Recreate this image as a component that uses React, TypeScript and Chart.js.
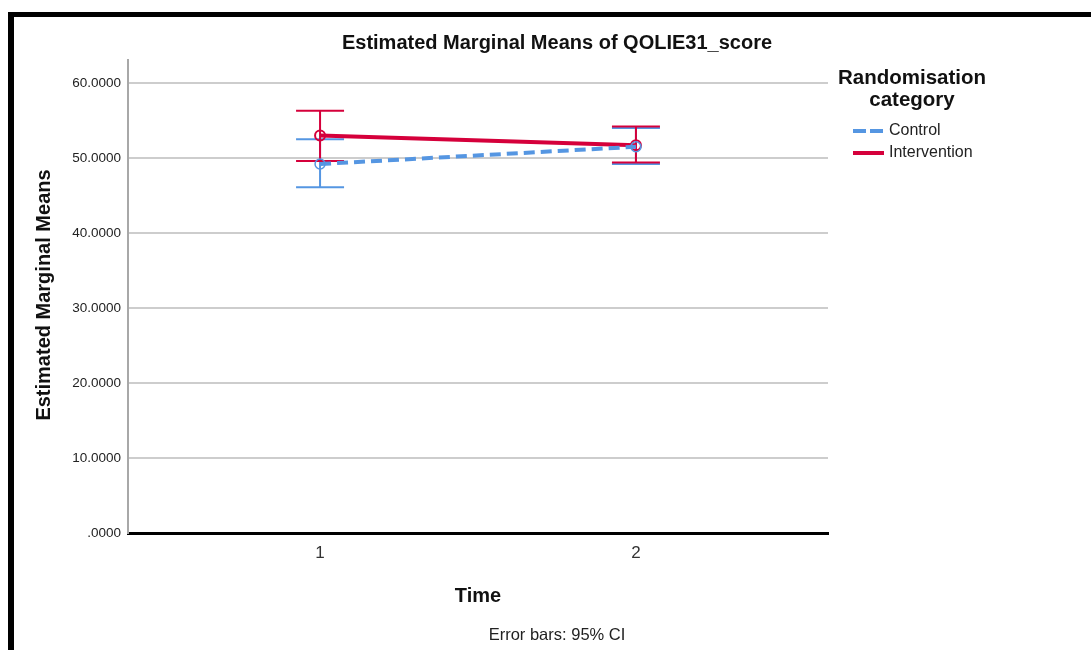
import React, { useEffect, useRef } from 'react';
import { Chart, registerables } from 'chart.js';
Chart.register(...registerables);

const TIMES = [1, 2];
const TIME_LABELS = ['1', '2'];
const SERIES_NAMES = ['Control', 'Intervention'];
const CONTROL_MEANS = [49.2, 51.5];
const CONTROL_LOWER = [46.1, 49.2];
const CONTROL_UPPER = [52.5, 54.0];
const INTERVENTION_MEANS = [53.0, 51.7];
const INTERVENTION_LOWER = [49.6, 49.4];
const INTERVENTION_UPPER = [56.3, 54.2];
const Y_TICKS = [0, 10, 20, 30, 40, 50, 60];
const Y_TICK_LABELS = ['.0000', '10.0000', '20.0000', '30.0000', '40.0000', '50.0000', '60.0000'];

const TITLE = 'Estimated Marginal Means of QOLIE31_score';
const Y_TITLE = 'Estimated Marginal Means';
const X_TITLE = 'Time';
const NOTE = 'Error bars: 95% CI';
const LEGEND_TITLE = ['Randomisation', 'category'];

const BLUE = '#5596e2';
const RED = '#d5003b';
const FONT = '"Liberation Sans", Arial, sans-serif';

const errorBarPlugin = {
  id: 'errorBars',
  beforeDatasetsDraw(chart: any) {
    const { ctx, scales } = chart;
    const xs = scales.x;
    const ys = scales.y;
    const sets = [
      { lo: CONTROL_LOWER, hi: CONTROL_UPPER, color: BLUE },
      { lo: INTERVENTION_LOWER, hi: INTERVENTION_UPPER, color: RED },
    ];
    ctx.save();
    sets.forEach((s) => {
      ctx.strokeStyle = s.color;
      ctx.lineWidth = 2;
      TIMES.forEach((t, i) => {
        const x = xs.getPixelForValue(t);
        const y1 = ys.getPixelForValue(s.lo[i]);
        const y2 = ys.getPixelForValue(s.hi[i]);
        ctx.beginPath();
        ctx.moveTo(x, y1);
        ctx.lineTo(x, y2);
        ctx.moveTo(x - 24, y1);
        ctx.lineTo(x + 24, y1);
        ctx.moveTo(x - 24, y2);
        ctx.lineTo(x + 24, y2);
        ctx.stroke();
      });
    });
    ctx.restore();
  },
};

const textPlugin = {
  id: 'texts',
  afterDraw(chart: any) {
    const { ctx } = chart;
    ctx.save();
    ctx.fillStyle = '#111';
    ctx.textBaseline = 'middle';
    ctx.textAlign = 'center';
    ctx.font = `bold 20px ${FONT}`;
    ctx.fillText(TITLE, 557, 43);
    ctx.font = `bold 20.5px ${FONT}`;
    ctx.fillText(LEGEND_TITLE[0], 912, 78);
    ctx.fillText(LEGEND_TITLE[1], 912, 100);
    ctx.font = `bold 20px ${FONT}`;
    ctx.fillText(X_TITLE, 478, 596);
    ctx.font = `16.5px ${FONT}`;
    ctx.fillStyle = '#222';
    ctx.fillText(NOTE, 557, 635);
    // legend items
    const colors = [BLUE, RED];
    const dashes = [[13, 4], []];
    const ys = [131, 153];
    SERIES_NAMES.forEach((name, i) => {
      ctx.strokeStyle = colors[i];
      ctx.lineWidth = 4;
      ctx.setLineDash(dashes[i]);
      ctx.beginPath();
      ctx.moveTo(853, ys[i]);
      ctx.lineTo(884, ys[i]);
      ctx.stroke();
      ctx.setLineDash([]);
      ctx.textAlign = 'left';
      ctx.fillStyle = '#222';
      ctx.font = `16px ${FONT}`;
      ctx.fillText(name, 889, ys[i]);
    });
    // y title
    ctx.translate(44, 295);
    ctx.rotate(-Math.PI / 2);
    ctx.textAlign = 'center';
    ctx.fillStyle = '#111';
    ctx.font = `bold 20px ${FONT}`;
    ctx.fillText(Y_TITLE, 0, 0);
    ctx.restore();
  },
};

export default function App() {
  const ref = useRef<HTMLCanvasElement>(null);
  useEffect(() => {
    const canvas = ref.current;
    if (!canvas) return;
    const chart = new Chart(canvas, {
      type: 'line',
      data: {
        datasets: [
          {
            label: SERIES_NAMES[0],
            data: TIMES.map((t, i) => ({ x: t, y: CONTROL_MEANS[i] })),
            borderColor: BLUE,
            borderWidth: 4,
            borderDash: [11, 6],
            pointRadius: 5,
            pointBorderWidth: 1.5,
            pointBorderColor: BLUE,
            pointBackgroundColor: 'rgba(255,255,255,0)',
            fill: false,
            tension: 0,
          },
          {
            label: SERIES_NAMES[1],
            data: TIMES.map((t, i) => ({ x: t, y: INTERVENTION_MEANS[i] })),
            borderColor: RED,
            borderWidth: 4,
            pointRadius: 5,
            pointBorderWidth: 2,
            pointBorderColor: RED,
            pointBackgroundColor: 'rgba(255,255,255,0)',
            fill: false,
            tension: 0,
          },
        ],
      },
      options: {
        responsive: false,
        animation: false,
        layout: { padding: { left: 0, top: 60, right: 263, bottom: 77 } },
        plugins: { legend: { display: false }, tooltip: { enabled: false }, title: { display: false } },
        scales: {
          x: {
            type: 'linear',
            min: 0.392,
            max: 2.608,
            afterFit: (s: any) => { s.height = 40; },
            afterBuildTicks: (s: any) => { s.ticks = TIMES.map((v) => ({ value: v })); },
            ticks: {
              callback: (v: any) => TIME_LABELS[TIMES.indexOf(Number(v))] ?? '',
              font: { family: FONT, size: 17 },
              color: '#333',
              padding: 10,
              maxRotation: 0,
            },
            grid: { display: false, drawTicks: false },
            border: { display: true, color: '#000', width: 3 },
          },
          y: {
            type: 'linear',
            min: 0,
            max: 63.07,
            afterFit: (s: any) => { s.width = 128; },
            afterBuildTicks: (s: any) => { s.ticks = Y_TICKS.map((v) => ({ value: v })); },
            ticks: {
              callback: (v: any) => Y_TICK_LABELS[Y_TICKS.indexOf(Number(v))] ?? '',
              font: { family: FONT, size: 13.5 },
              color: '#222',
              padding: 7,
            },
            grid: {
              drawTicks: false,
              lineWidth: 2,
              color: (c: any) => (c.tick && c.tick.value === 0 ? 'rgba(0,0,0,0)' : '#cdcdcd'),
            },
            border: { display: true, color: '#a8a8a8', width: 2 },
          },
        },
      },
      plugins: [errorBarPlugin, textPlugin],
    });
    return () => chart.destroy();
  }, []);

  return (
    <div style={{ position: 'fixed', left: 0, top: 0, width: 1091, height: 650, overflow: 'hidden', background: '#fff' }}>
      <div
        style={{
          position: 'absolute',
          left: 8,
          top: 12,
          width: 3000,
          height: 3000,
          borderLeft: '6px solid #000',
          borderTop: '5px solid #000',
        }}
      />
      <canvas ref={ref} width={1091} height={650} style={{ position: 'absolute', left: 0, top: 0 }} />
    </div>
  );
}
